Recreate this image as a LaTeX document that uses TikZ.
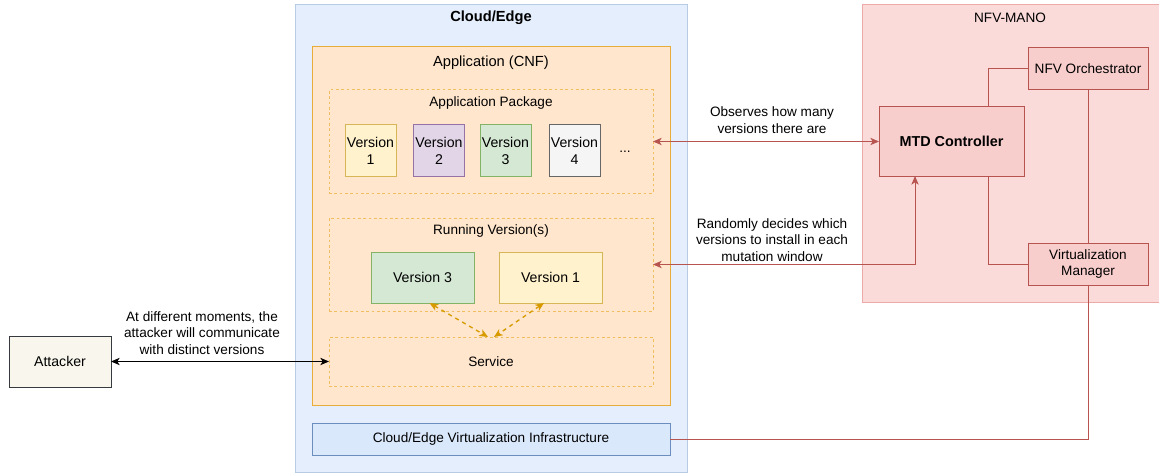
\documentclass[tikz,border=0pt]{standalone}
\usepackage{fontspec}
\setmainfont{Liberation Sans}
\usetikzlibrary{arrows.meta,calc}
\definecolor{cloudfill}{HTML}{E4EEFC}
\definecolor{cloudline}{HTML}{B7CBE5}
\definecolor{appfill}{HTML}{FFE6CC}
\definecolor{appline}{HTML}{E8AC3A}
\definecolor{pkgline}{HTML}{F0BE5E}
\definecolor{yfill}{HTML}{FFF2CC}\definecolor{yline}{HTML}{D6B656}
\definecolor{pfill}{HTML}{E1D5E7}\definecolor{pline}{HTML}{9673A6}
\definecolor{gfill}{HTML}{D5E8D4}\definecolor{gline}{HTML}{82B366}
\definecolor{wfill}{HTML}{F5F5F5}\definecolor{wline}{HTML}{666666}
\definecolor{bfill}{HTML}{DAE8FC}\definecolor{bline}{HTML}{6C8EBF}
\definecolor{manofill}{HTML}{FADBDA}\definecolor{manoline}{HTML}{EDAAA8}
\definecolor{rfill}{HTML}{F8CECC}\definecolor{rline}{HTML}{B85450}
\definecolor{afill}{HTML}{F9F7ED}\definecolor{aline}{HTML}{36393D}
\definecolor{orarrow}{HTML}{D79B00}
\tikzset{
  sz/.style 2 args={minimum width=#1*0.75pt, minimum height=#2*0.75pt, inner sep=0pt, outer sep=0pt},
  box/.style={draw, line width=0.75pt, align=center},
  dashbox/.style={draw=pkgline, line width=0.75pt, dash pattern=on 2pt off 2pt},
  txt/.style={font=\fontsize{10.2}{12.6}\selectfont, align=center, inner sep=0pt},
  big/.style={font=\fontsize{10.6}{12.8}\selectfont},
  redline/.style={draw=rline, line width=0.75pt},
  >={Stealth[length=6.5pt,width=5.5pt,inset=1.8pt]},
}
\begin{document}
\begin{tikzpicture}[x=0.75pt,y=-0.75pt]
\useasboundingbox (0,0) rectangle (1159,474);
% Cloud/Edge
\node[box, draw=cloudline, fill=cloudfill, sz={392}{467}] (cloud) at (491,238.5) {};
\node[txt, font=\fontsize{11}{12}\selectfont\bfseries] (cloudlbl) at (491,18) {Cloud/Edge};
% Application
\node[box, draw=appline, fill=appfill, sz={358}{358}] (app) at (491,226) {};
\node[txt, font=\fontsize{11}{12}\selectfont] (applbl) at (491,63) {Application (CNF)};
% Package
\node[dashbox, sz={324}{103}] (pkg) at (491,141.5) {};
\node[txt] (pkglbl) at (491,103) {Application Package};
\node[box, draw=yline, fill=yfill, sz={51}{51}, big] (v1) at (370.5,150.5) {Version\\1};
\node[box, draw=pline, fill=pfill, sz={51}{51}, big] (v2) at (439,150.5) {Version\\2};
\node[box, draw=gline, fill=gfill, sz={51}{51}, big] (v3) at (505.5,150.5) {Version\\3};
\node[box, draw=wline, fill=wfill, sz={51}{51}, big] (v4) at (574.5,150.5) {Version\\4};
\node[txt] (dots) at (625,152) {...};
% Running
\node[dashbox, sz={324}{93}] (run) at (491,264.5) {};
\node[txt] (runlbl) at (491,231) {Running Version(s)};
\node[box, draw=gline, fill=gfill, sz={103}{51}, big] (rv3) at (422.5,277.5) {Version 3};
\node[box, draw=yline, fill=yfill, sz={103}{51}, big] (rv1) at (550.5,277.5) {Version 1};
% Service
\node[dashbox, sz={324}{49}, txt] (svc) at (491,361.5) {Service};
% Infra
\node[box, draw=bline, fill=bfill, sz={358}{32}, txt] (infra) at (491,439) {Cloud/Edge Virtualization Infrastructure};
% Attacker
\node[box, draw=aline, fill=afill, sz={102}{51}, big] (att) at (60,361.5) {Attacker};
% NFV-MANO
\node[box, draw=manoline, fill=manofill, sz={297}{297}] (mano) at (1010.5,153.5) {};
\node[txt] (manolbl) at (1010,18) {NFV-MANO};
\node[box, draw=rline, fill=rfill, sz={145}{69}, font=\fontsize{10.8}{12}\selectfont\bfseries] (mtd) at (951.5,141.5) {MTD Controller};
\node[box, draw=rline, fill=rfill, sz={120}{42}, txt] (orch) at (1088,69) {NFV Orchestrator};
\node[box, draw=rline, fill=rfill, sz={120}{42}, txt] (vm) at (1088,264) {Virtualization\\Manager};
% Connectors
\coordinate (mx) at (988,0);
\coordinate (rx) at (915,264.5);
\draw[redline] (mx |- mtd.north) |- (orch.west);
\draw[redline] (mx |- mtd.south) |- (vm.west);
\draw[redline] (orch.south) -- (vm.north);
\draw[redline] (vm.south) |- (infra.east);
\draw[redline, <->] (pkg.east) -- (mtd.west);
\draw[redline, <->] (run.east) -- (rx) -- (rx |- mtd.south);
\draw[line width=0.75pt, <->] (att.east) -- (svc.west);
\draw[draw=orarrow, line width=1pt, dash pattern=on 3pt off 3pt, <->] ($(rv3.south)+(7,0)$) -- ($(svc.north)+(-3,0)$);
\draw[draw=orarrow, line width=1pt, dash pattern=on 3pt off 3pt, <->] ($(rv1.south)+(-6.5,0)$) -- ($(svc.north)+(3,0)$);
% Labels
\node[txt] (lobs) at (772,120) {Observes how many\\versions there are};
\node[txt] (lrand) at (772,240) {Randomly decides which\\versions to install in each\\mutation window};
\node[txt] (latt) at (202,333) {At different moments, the\\attacker will communicate\\with distinct versions};
\end{tikzpicture}
\end{document}
